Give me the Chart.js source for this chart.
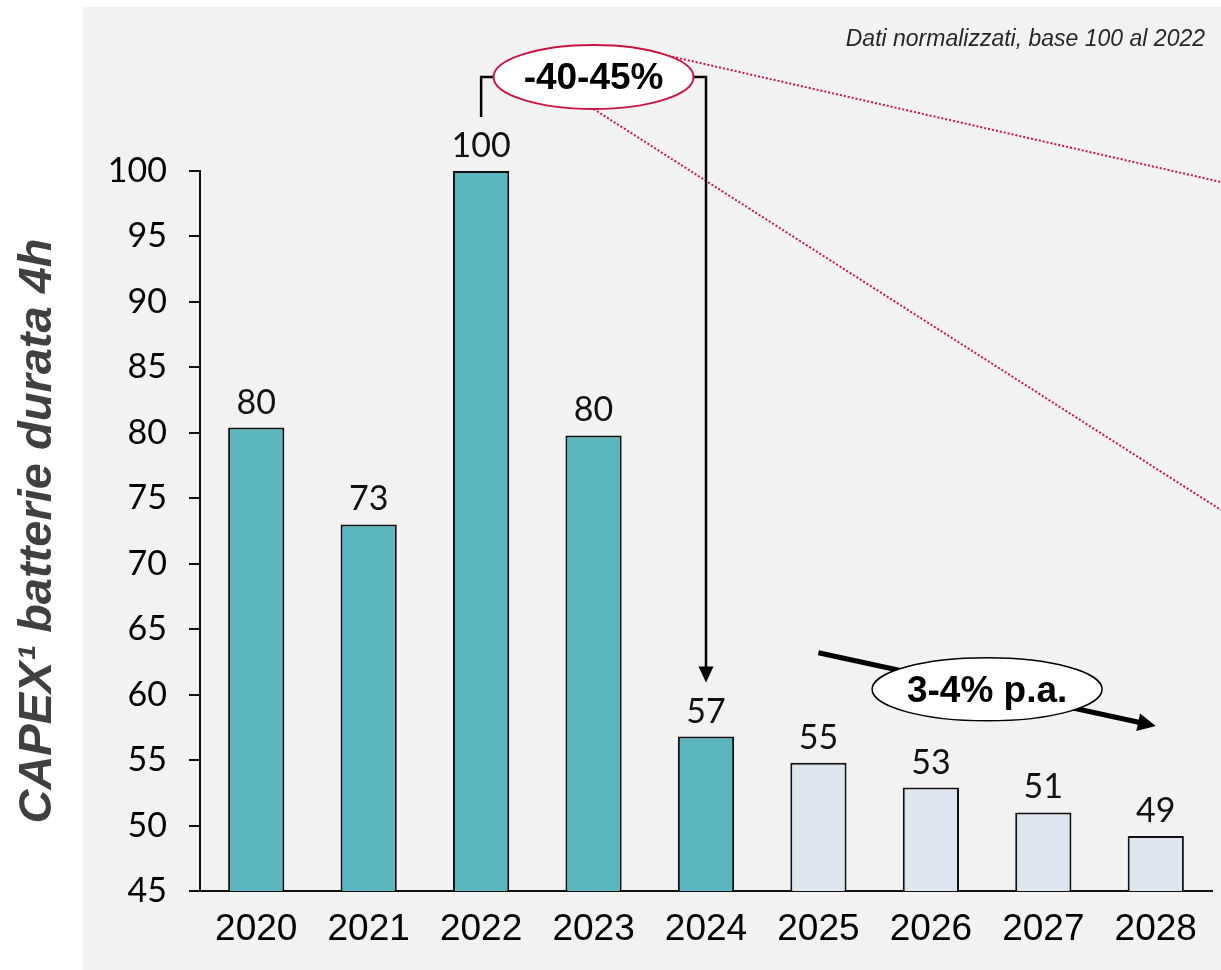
<!DOCTYPE html>
<html>
<head>
<meta charset="utf-8">
<script src="https://cdn.jsdelivr.net/npm/chart.js@4"></script>
<style>
  html, body { margin: 0; padding: 0; background: #fff; }
  #wrap { width: 1221px; height: 970px; }
</style>
</head>
<body>
<div id="wrap"><canvas id="capexChart"></canvas></div>
<script>
// CAPEX index for 4h batteries, 2022 = 100
const years = ["2020", "2021", "2022", "2023", "2024", "2025", "2026", "2027", "2028"];
const capexIndex = [80.4, 73.0, 100, 79.8, 56.8, 54.8, 52.9, 51.0, 49.2];
const yTicks = [45, 50, 55, 60, 65, 70, 75, 80, 85, 90, 95, 100];
const lastActualYear = "2024";

const axisTitle = "CAPEX\u00B9 batterie durata 4h";
const note = "Dati normalizzati, base 100 al 2022";
const dropLabel = "-40-45%";
const trendLabel = "3-4% p.a.";

const TEAL = "#5bb6c0";
const LIGHT = "#dee5ee";
const CRIMSON = "#cc1443";
const numFont = "'Century Gothic', Lato, sans-serif";
const arial = "'Liberation Sans', Arial, sans-serif";
const lastActualIdx = years.indexOf(lastActualYear);

// grey panel behind the plot
const panelBg = {
  id: "panelBg",
  beforeDraw(chart) {
    const c = chart.ctx;
    c.save();
    c.fillStyle = "#f2f2f2";
    c.fillRect(83, 7, chart.width - 83, chart.height - 7);
    c.restore();
  }
};

// value labels on top of the bars
const barValues = {
  id: "barValues",
  afterDatasetsDraw(chart) {
    const c = chart.ctx;
    c.save();
    c.font = "34px " + numFont;
    c.fillStyle = "#111";
    c.textAlign = "center";
    c.textBaseline = "alphabetic";
    chart.getDatasetMeta(0).data.forEach((bar, i) => {
      c.fillText(Math.round(capexIndex[i]), bar.x, bar.y - 14);
    });
    c.restore();
  }
};

function arrowHead(c, x0, y0, x1, y1, len, half) {
  const a = Math.atan2(y1 - y0, x1 - x0);
  c.beginPath();
  c.moveTo(x1, y1);
  c.lineTo(x1 - len * Math.cos(a) + half * Math.sin(a), y1 - len * Math.sin(a) - half * Math.cos(a));
  c.lineTo(x1 - len * Math.cos(a) - half * Math.sin(a), y1 - len * Math.sin(a) + half * Math.cos(a));
  c.closePath();
  c.fill();
}

// callouts: note, drop bracket, trend arrow
const callouts = {
  id: "callouts",
  afterDraw(chart) {
    const c = chart.ctx;
    const bars = chart.getDatasetMeta(0).data;
    const b22 = bars[years.indexOf("2022")];
    const b24 = bars[lastActualIdx];
    c.save();

    c.font = "italic 23px " + arial;
    c.fillStyle = "#262626";
    c.textAlign = "right";
    c.textBaseline = "alphabetic";
    c.fillText(note, 1205, 46);

    // drop bracket from the 2022 peak to 2024
    const topY = b22.y - 94;
    const cx = (b22.x + b24.x) / 2;
    const rx = 100, ry = 32;
    const tipY = b24.y - 54;

    c.strokeStyle = CRIMSON;
    c.lineWidth = 2;
    c.setLineDash([2, 2]);
    const t1 = -41.6 * Math.PI / 180;
    c.beginPath();
    c.moveTo(cx + rx * Math.cos(t1), topY + ry * Math.sin(t1));
    c.lineTo(chart.width, 182);
    c.moveTo(cx, topY + ry);
    c.lineTo(chart.width, 510);
    c.stroke();
    c.setLineDash([]);

    c.strokeStyle = "#000";
    c.fillStyle = "#000";
    c.lineWidth = 2.5;
    c.beginPath();
    c.moveTo(b22.x, b22.y - 54);
    c.lineTo(b22.x, topY);
    c.lineTo(b24.x, topY);
    c.lineTo(b24.x, tipY - 14);
    c.stroke();
    arrowHead(c, b24.x, topY, b24.x, tipY, 16, 7.5);

    c.beginPath();
    c.ellipse(cx, topY, rx, ry, 0, 0, Math.PI * 2);
    c.fillStyle = "#fff";
    c.fill();
    c.strokeStyle = CRIMSON;
    c.lineWidth = 2;
    c.stroke();
    c.fillStyle = "#000";
    c.font = "bold 37px " + arial;
    c.textAlign = "center";
    c.textBaseline = "middle";
    c.fillText(dropLabel, cx, topY + 2);

    // forecast trend arrow
    const f0 = bars[lastActualIdx + 1];
    const f1 = bars[bars.length - 1];
    const x0 = f0.x, y0 = f0.y - 110, x1 = f1.x, y1 = f1.y - 110;
    const ang = Math.atan2(y1 - y0, x1 - x0);
    c.strokeStyle = "#000";
    c.lineWidth = 5;
    c.beginPath();
    c.moveTo(x0, y0);
    c.lineTo(x1 - 14 * Math.cos(ang), y1 - 14 * Math.sin(ang));
    c.stroke();
    arrowHead(c, x0, y0, x1, y1, 18, 9);

    const mx = (x0 + x1) / 2, my = (y0 + y1) / 2;
    c.beginPath();
    c.ellipse(mx, my, 115, 31.5, 0, 0, Math.PI * 2);
    c.fillStyle = "#fff";
    c.fill();
    c.lineWidth = 1.5;
    c.stroke();
    c.fillStyle = "#000";
    c.font = "bold 37px " + arial;
    c.fillText(trendLabel, mx, my + 2);

    c.restore();
  }
};

new Chart(document.getElementById("capexChart"), {
  type: "bar",
  data: {
    labels: years,
    datasets: [{
      data: capexIndex,
      backgroundColor: ctx => ctx.dataIndex <= lastActualIdx ? TEAL : LIGHT,
      borderColor: "#111",
      borderWidth: 2,
      barPercentage: 0.5,
      categoryPercentage: 1
    }]
  },
  options: {
    responsive: true,
    maintainAspectRatio: false,
    animation: false,
    layout: {
      padding: { top: 171, right: 9, left: 0, bottom: 0 }
    },
    scales: {
      x: {
        grid: { display: false },
        border: { display: true, color: "#111", width: 2 },
        ticks: {
          color: "#000",
          padding: 9,
          font: { family: arial, size: 37 }
        },
        afterFit: s => { s.height = 79; }
      },
      y: {
        min: 45,
        max: 100,
        afterBuildTicks: s => { s.ticks = yTicks.map(v => ({ value: v })); },
        afterFit: s => { s.width = 200; },
        grid: {
          drawOnChartArea: false,
          drawTicks: true,
          tickLength: 11,
          color: "#111",
          lineWidth: 2
        },
        border: { display: true, color: "#111", width: 2 },
        ticks: {
          color: "#000",
          padding: 22,
          font: { family: numFont, size: 34 }
        },
        title: {
          display: true,
          text: axisTitle,
          color: "#404040",
          padding: { top: 10, bottom: 0 },
          font: { family: arial, size: 47, weight: "bold", style: "italic" }
        }
      }
    },
    plugins: {
      legend: { display: false },
      tooltip: { enabled: false }
    }
  },
  plugins: [panelBg, barValues, callouts]
});
</script>
</body>
</html>
